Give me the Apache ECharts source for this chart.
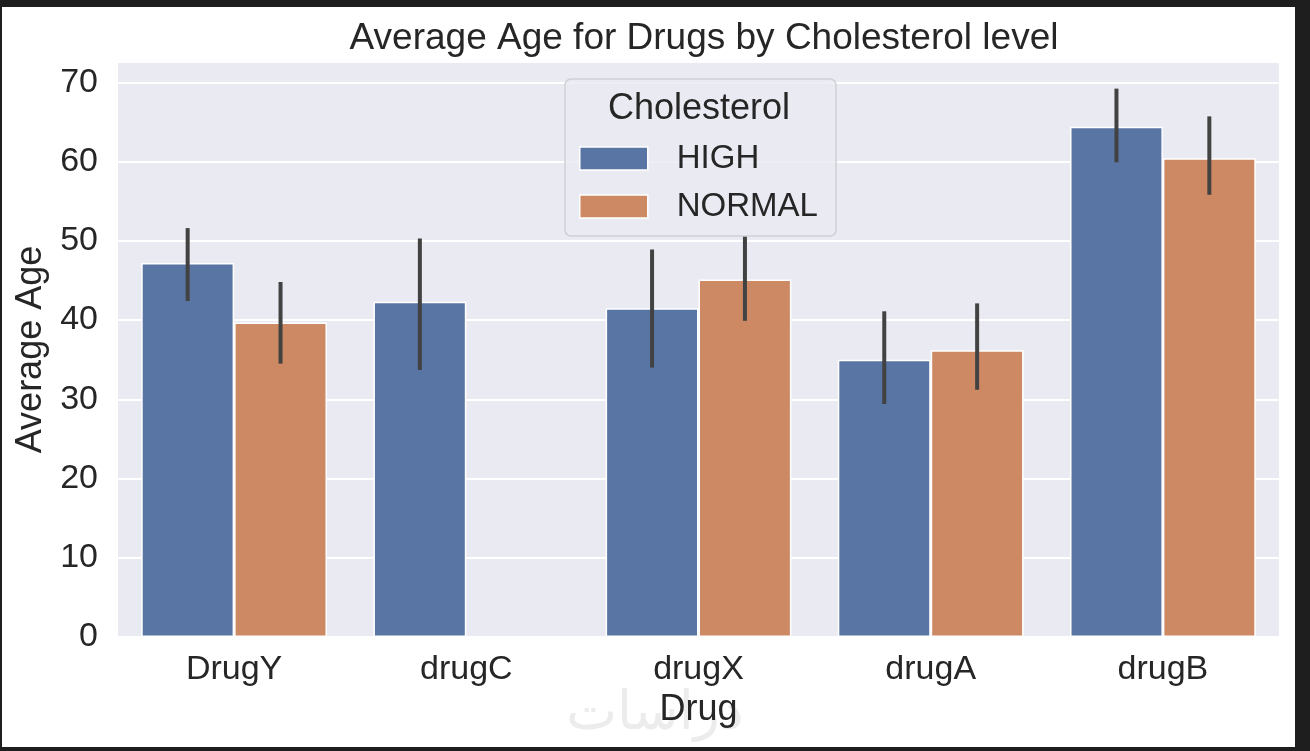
<!DOCTYPE html>
<html>
<head>
<meta charset="utf-8">
<script src="https://cdn.jsdelivr.net/npm/echarts@6/dist/echarts.min.js"></script>
<style>
  html, body { margin: 0; padding: 0; background: #1e1e1e; width: 1310px; height: 751px; overflow: hidden; }
  #paper { position: absolute; left: 2px; top: 7px; width: 1293px; height: 740px; background: #ffffff; }
  #chart { position: absolute; left: 0; top: 0; width: 1310px; height: 751px; }
</style>
</head>
<body>
<div id="paper"></div>
<div id="chart"></div>
<script>
// ---- data ----
const categories = ['DrugY', 'drugC', 'drugX', 'drugA', 'drugB'];
const seriesNames = ['HIGH', 'NORMAL'];
const highMean   = [47.2, 42.3, 41.5, 35.0, 64.4];
const normalMean = [39.7, '-',  45.1, 36.2, 60.4];
const highLow    = [42.4, 33.7, 34.0, 29.4, 59.9];
const highHigh   = [51.6, 50.3, 48.9, 41.1, 69.2];
const normalLow  = [34.5, null, 39.9, 31.2, 55.8];
const normalHigh = [44.8, null, 50.6, 42.1, 65.7];
const yTicks = [0, 10, 20, 30, 40, 50, 60, 70];

const FONT = "'Liberation Sans', Arial, Helvetica, sans-serif";
const TXT = '#262626';
const BLUE = '#5875a4';
const ORANGE = '#cc8963';

function errData(lo, hi) {
  const out = [];
  for (let i = 0; i < categories.length; i++) {
    if (lo[i] != null && hi[i] != null) out.push([i, lo[i], hi[i]]);
  }
  return out;
}
function errRender(sign) {
  return function (params, api) {
    const x = api.value(0);
    const p1 = api.coord([x, api.value(1)]);
    const p2 = api.coord([x, api.value(2)]);
    const band = api.size([1, 0])[0];
    const off = band * 0.2 * sign;
    return {
      type: 'line',
      shape: { x1: p1[0] + off, y1: p1[1], x2: p2[0] + off, y2: p2[1] },
      style: { stroke: '#424242', lineWidth: 4, lineCap: 'butt' }
    };
  };
}

const chart = echarts.init(document.getElementById('chart'), null, { renderer: 'canvas' });
chart.setOption({
  backgroundColor: 'transparent',
  animation: false,
  title: {
    text: 'Average Age for Drugs by Cholesterol level',
    left: 699, top: 15, textAlign: 'center',
    textStyle: { fontFamily: FONT, fontSize: 37, fontWeight: 'normal', color: TXT }
  },
  grid: {
    left: 118, right: 31, top: 62, bottom: 114,
    show: true, backgroundColor: '#eaeaf2', borderWidth: 0
  },
  legend: {
    data: seriesNames,
    orient: 'vertical',
    left: 574, top: 137, z: 6,
    itemWidth: 68, itemHeight: 23, itemGap: 15,
    icon: 'rect',
    itemStyle: { borderColor: '#ffffff', borderWidth: 1.5 },
    textStyle: { fontFamily: FONT, fontSize: 33, color: TXT, padding: [0, 0, 0, 24] }
  },
  xAxis: {
    type: 'category',
    data: categories,
    name: 'Drug', nameLocation: 'middle', nameGap: 54,
    nameTextStyle: { fontFamily: FONT, fontSize: 36, color: TXT },
    axisLine: { show: false }, axisTick: { show: false },
    axisLabel: { fontFamily: FONT, fontSize: 34, color: TXT, margin: 16 },
    splitLine: { show: false }
  },
  yAxis: {
    type: 'value', min: yTicks[0], max: 72.56, interval: 10,
    name: 'Average Age', nameLocation: 'middle', nameGap: 69, nameRotate: 90,
    nameTextStyle: { fontFamily: FONT, fontSize: 36, color: TXT },
    axisLine: { show: false }, axisTick: { show: false },
    axisLabel: {
      fontFamily: FONT, fontSize: 34, color: TXT, margin: 20,
      formatter: v => (yTicks.indexOf(v) >= 0 ? String(v) : '')
    },
    splitLine: { show: true, lineStyle: { color: '#ffffff', width: 2 } }
  },
  graphic: [
    {
      type: 'rect', z: 4,
      shape: { x: 565, y: 79, width: 271, height: 157, r: 6 },
      style: { fill: 'rgba(234,234,242,0.8)', stroke: '#cfcfd6', lineWidth: 1.5 }
    },
    {
      type: 'text', z: 7, x: 699, y: 109,
      style: { text: 'Cholesterol', fontFamily: FONT, fontSize: 36, fill: TXT, align: 'center', verticalAlign: 'middle' }
    },
    {
      type: 'text', z: 0, x: 655, y: 715,
      style: { text: 'دراسات', fontFamily: "'DejaVu Sans', sans-serif", fontSize: 54, fill: '#ececec', align: 'center', verticalAlign: 'middle' }
    }
  ],
  series: [
    {
      name: seriesNames[0], type: 'bar', data: highMean,
      barWidth: '40%', barGap: '0%', z: 2,
      itemStyle: { color: BLUE, borderColor: '#ffffff', borderWidth: 1.5 }
    },
    {
      name: seriesNames[1], type: 'bar', data: normalMean,
      barWidth: '40%', barGap: '0%', z: 2,
      itemStyle: { color: ORANGE, borderColor: '#ffffff', borderWidth: 1.5 }
    },
    {
      name: 'HIGH_err', type: 'custom', data: errData(highLow, highHigh),
      encode: { x: 0, y: [1, 2] }, renderItem: errRender(-1), z: 3, silent: true
    },
    {
      name: 'NORMAL_err', type: 'custom', data: errData(normalLow, normalHigh),
      encode: { x: 0, y: [1, 2] }, renderItem: errRender(1), z: 3, silent: true
    }
  ]
});
</script>
</body>
</html>
